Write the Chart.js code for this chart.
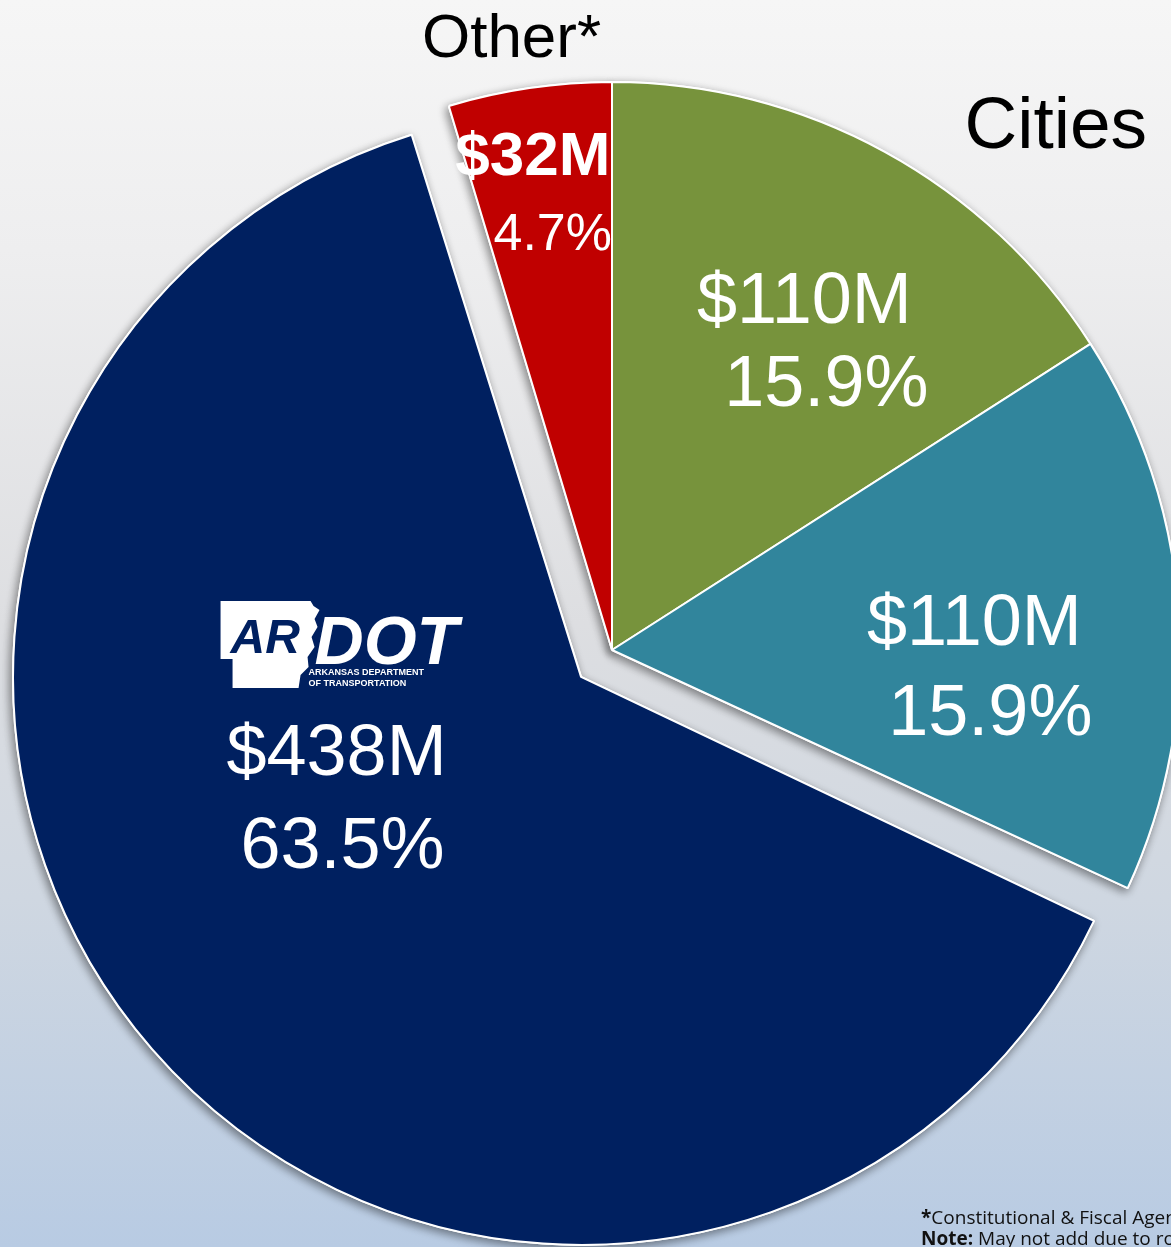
<!DOCTYPE html>
<html>
<head>
<meta charset="utf-8">
<script src="https://cdn.jsdelivr.net/npm/chart.js@4"></script>
<style>
  html, body {
    margin: 0;
    padding: 0;
    width: 1171px;
    height: 1247px;
    overflow: hidden;
  }
  body {
    position: relative;
    background: linear-gradient(to bottom, #f6f6f6 0%, #eeeeef 20%, #dddee1 50%, #cfd7e1 72%, #b8cbe3 100%);
    font-family: "Liberation Sans", Arial, sans-serif;
  }
  #pie {
    position: absolute;
    left: 0;
    top: 0;
  }
  .footnote {
    position: absolute;
    left: 921px;
    top: 1207px;
    font-family: "Open Sans", "Noto Sans", sans-serif;
    font-size: 19px;
    line-height: 21px;
    color: #111;
    white-space: nowrap;
  }
</style>
</head>
<body>
<canvas id="pie" width="1171" height="1247"></canvas>
<div class="footnote"><b>*</b>Constitutional &amp; Fiscal Agencies<br><b>Note:</b> May not add due to rounding</div>

<script>
// Data

const categories = ["Cities", "Counties", "ARDOT", "Other*"];
const amounts = [110, 110, 438, 32]; // $ millions
const amountLabels = ["$110M", "$110M", "$438M", "$32M"];
const pctLabels = ["15.9%", "15.9%", "63.5%", "4.7%"];
const sliceColors = ["#77933C", "#31859C", "#002060", "#C00000"];

// Label layout (pixel nudges from each slice's centroid)

const labelLayout = [
    { l1: [56, -78], l2: [78, 5], font1: "72px", font2: "72px" },
    { l1: [79, 14], l2: [95, 104], font1: "72px", font2: "72px" },
    { l1: [-30, -88], l2: [-24, 5], font1: "72px", font2: "72px" },
    { l1: [-38, -194], l2: [-18, -119], font1: "bold 62px", font2: "52px" }
];

// outside names, nudged from the slice's outer edge midpoint
const outerNames = {
    0: { dx: 171, dy: -4, size: 73 },
    3: { dx: -18, dy: -31, size: 62 }
};

// chart.js grows an exploded slice's radius by offset/4 * fix - work it out here
function radiusGrowth(arc) {
    const off = (arc.options.offset || 0) / 4;
    const circ = arc.endAngle - arc.startAngle;
    return off * (1 - Math.sin(Math.min(Math.PI, circ)));
}

function sliceCentroid(arc) {
    const p = arc.getProps(["x", "y", "startAngle", "endAngle", "outerRadius"], true);
    const mid = (p.startAngle + p.endAngle) / 2;
    const shift = (arc.options.offset || 0) / 4;
    const r = p.outerRadius + radiusGrowth(arc);
    return {
        cx: p.x + Math.cos(mid) * (shift + r / 2),
        cy: p.y + Math.sin(mid) * (shift + r / 2),
        ox: p.x + Math.cos(mid) * (shift + r),
        oy: p.y + Math.sin(mid) * (shift + r)
    };
}

// Keep exploded slices the same size as the others

const keepRadius = {
    id: "keepRadius",
    afterDatasetUpdate(chart, args) {
        args.meta.data.forEach(arc => {
            arc.outerRadius -= radiusGrowth(arc);
        });
    }
};

// Shadow pass - draws the slices once with a soft shadow underneath the real ones

const shadowPass = {
    id: "shadowPass",
    beforeDatasetsDraw(chart) {
        const ctx = chart.ctx;
        ctx.save();
        ctx.shadowColor = "rgba(0, 0, 0, 0.45)";
        ctx.shadowBlur = 10;
        ctx.shadowOffsetX = -2;
        ctx.shadowOffsetY = 3;
        chart.getDatasetMeta(0).data.forEach(arc => arc.draw(ctx));
        ctx.restore();
    }
};

// ARDOT logo drawn near the big slice's label

function drawLogo(ctx, x, y) {
    // x, y = top-left of the state outline
    ctx.save();
    ctx.fillStyle = "#ffffff";
    ctx.beginPath();
    ctx.moveTo(x, y);
    ctx.lineTo(x + 90, y);
    ctx.lineTo(x + 93, y + 5);
    ctx.lineTo(x + 99, y + 9);
    ctx.lineTo(x + 94, y + 18);
    ctx.lineTo(x + 97, y + 26);
    ctx.lineTo(x + 91, y + 36);
    ctx.lineTo(x + 94, y + 46);
    ctx.lineTo(x + 87, y + 56);
    ctx.lineTo(x + 88, y + 66);
    ctx.lineTo(x + 80, y + 74);
    ctx.lineTo(x + 78, y + 87);
    ctx.lineTo(x + 12, y + 87);
    ctx.lineTo(x + 12, y + 58);
    ctx.lineTo(x, y + 58);
    ctx.closePath();
    ctx.fill();

    ctx.textAlign = "left";
    ctx.textBaseline = "alphabetic";
    ctx.fillStyle = "#002060";
    ctx.font = "italic bold 48px 'Liberation Sans', Arial, sans-serif";
    ctx.fillText("AR", x + 10, y + 52);

    ctx.fillStyle = "#ffffff";
    ctx.font = "italic bold 68px 'Liberation Sans', Arial, sans-serif";
    ctx.fillText("DOT", x + 94, y + 63);

    ctx.font = "bold 9px 'Liberation Sans', Arial, sans-serif";
    ctx.fillText("ARKANSAS DEPARTMENT", x + 88, y + 74);
    ctx.fillText("OF TRANSPORTATION", x + 88, y + 85);
    ctx.restore();
}

// Slice labels

const sliceLabels = {
    id: "sliceLabels",
    afterDatasetsDraw(chart) {
        const ctx = chart.ctx;
        const arcs = chart.getDatasetMeta(0).data;
        ctx.save();
        ctx.textAlign = "center";
        ctx.textBaseline = "alphabetic";

        arcs.forEach((arc, i) => {
            const c = sliceCentroid(arc);
            const lay = labelLayout[i];
            ctx.fillStyle = "#ffffff";
            ctx.font = lay.font1 + " 'Liberation Sans', Arial, sans-serif";
            ctx.fillText(amountLabels[i], c.cx + lay.l1[0], c.cy + lay.l1[1]);
            ctx.font = lay.font2 + " 'Liberation Sans', Arial, sans-serif";
            ctx.fillText(pctLabels[i], c.cx + lay.l2[0], c.cy + lay.l2[1]);

            if (categories[i] === "ARDOT") {
                drawLogo(ctx, c.cx + lay.l1[0] - 116, c.cy + lay.l1[1] - 174);
            }

            const o = outerNames[i];
            if (o) {
                ctx.fillStyle = "#000000";
                ctx.font = o.size + "px 'Liberation Sans', Arial, sans-serif";
                ctx.fillText(categories[i], c.ox + o.dx, c.oy + o.dy);
            }
        });
        ctx.restore();
    }
};

// Pie chart

const pieCanvas = document.getElementById("pie");

const pieData = {
    labels: categories,
    datasets: [{
        data: amounts,
        backgroundColor: sliceColors,
        borderColor: "#ffffff",
        borderWidth: 2,
        offset: [0, 0, 164, 0],
        radius: 568,
        clip: false
    }]
};

const pieOptions = {
    responsive: false,
    animation: false,
    events: [],
    layout: {
        padding: { left: 53, top: 53, right: 0, bottom: 0 }
    },
    plugins: {
        legend: { display: false },
        tooltip: { enabled: false },
        title: { display: false }
    }
};

let pieChart = new Chart(pieCanvas, {
    type: "pie",
    data: pieData,
    options: pieOptions,
    plugins: [keepRadius, shadowPass, sliceLabels]
});
</script>
</body>
</html>
